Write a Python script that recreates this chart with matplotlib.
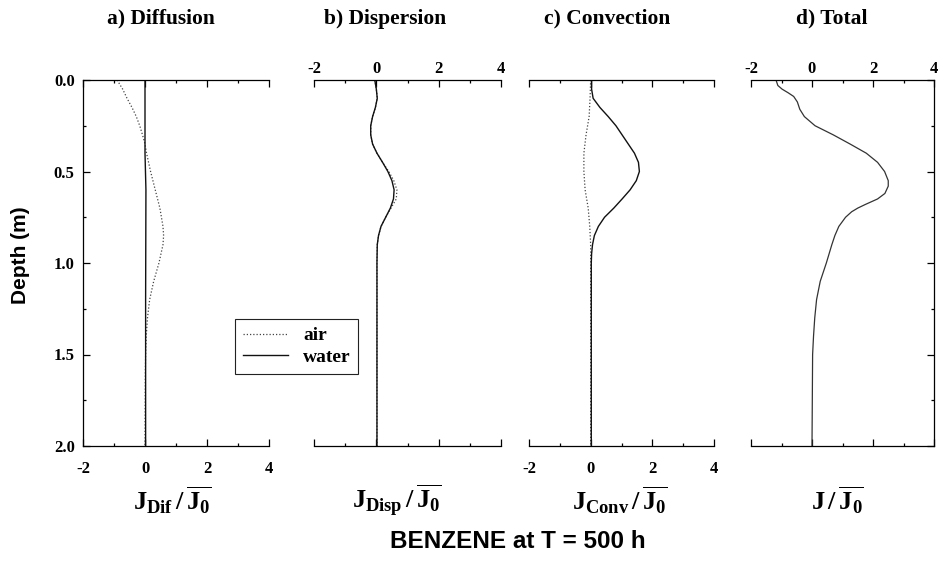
import numpy as np
import matplotlib
matplotlib.use("Agg")
import matplotlib.pyplot as plt
from matplotlib.lines import Line2D

plt.rcParams['font.family'] = 'Liberation Serif'
plt.rcParams['font.weight'] = 'bold'
plt.rcParams['axes.unicode_minus'] = False
plt.rcParams['mathtext.fontset'] = 'custom'
plt.rcParams['mathtext.rm'] = 'Liberation Serif:bold'
plt.rcParams['mathtext.it'] = 'Liberation Serif:bold'
plt.rcParams['mathtext.bf'] = 'Liberation Serif:bold'

# flux profiles vs depth (m), normalised by mean inflow flux
dif_air_depth = [0.0, 0.05, 0.1, 0.15, 0.2, 0.25, 0.3, 0.35, 0.4, 0.5, 0.6, 0.7,
                 0.8, 0.85, 0.9, 1.0, 1.1, 1.2, 1.3, 1.4, 1.5, 1.6, 2.0]
dif_air = [-0.9, -0.72, -0.58, -0.42, -0.28, -0.17, -0.08, 0.0, 0.05, 0.18, 0.33, 0.48,
           0.58, 0.6, 0.58, 0.45, 0.28, 0.15, 0.08, 0.04, 0.02, 0.01, 0.0]
dif_water_depth = [0.0, 0.4, 0.6, 1.2, 2.0]
dif_water = [0.0, 0.0, 0.03, 0.02, 0.02]

disp_depth = [0.0, 0.05, 0.1, 0.15, 0.2, 0.25, 0.3, 0.35, 0.4, 0.45, 0.5, 0.55, 0.6,
              0.65, 0.7, 0.75, 0.8, 0.85, 0.9, 1.0, 2.0]
disp_water = [-0.05, 0.0, 0.03, -0.03, -0.12, -0.18, -0.18, -0.12, 0.02, 0.2, 0.37, 0.5,
              0.57, 0.55, 0.45, 0.3, 0.15, 0.07, 0.03, 0.02, 0.02]
disp_air = [-0.05, 0.0, 0.03, -0.03, -0.12, -0.18, -0.18, -0.12, 0.02, 0.2, 0.4, 0.56,
            0.66, 0.64, 0.47, 0.3, 0.15, 0.07, 0.03, 0.02, 0.02]

conv_water_depth = [0.0, 0.05, 0.1, 0.15, 0.2, 0.25, 0.3, 0.35, 0.4, 0.45, 0.5, 0.55,
                    0.6, 0.65, 0.7, 0.75, 0.8, 0.85, 0.9, 0.95, 1.0, 2.0]
conv_water = [0.03, 0.03, 0.08, 0.3, 0.57, 0.82, 1.02, 1.22, 1.42, 1.55, 1.58, 1.48,
              1.28, 1.02, 0.75, 0.45, 0.25, 0.12, 0.06, 0.03, 0.02, 0.02]
conv_air_depth = [0.0, 0.1, 0.2, 0.3, 0.4, 0.5, 0.6, 0.7, 0.8, 0.9, 2.0]
conv_air = [0.0, -0.02, -0.05, -0.15, -0.22, -0.22, -0.18, -0.08, -0.03, 0.0, 0.0]

total_depth = [0.0, 0.03, 0.05, 0.07, 0.09, 0.12, 0.16, 0.2, 0.25, 0.3, 0.35, 0.4, 0.45,
               0.5, 0.55, 0.58, 0.62, 0.65, 0.68, 0.7, 0.72, 0.75, 0.8, 0.85, 0.9,
               1.0, 1.1, 1.2, 1.3, 1.4, 1.5, 2.0]
total = [-1.18, -1.12, -0.98, -0.78, -0.6, -0.48, -0.4, -0.25, 0.1, 0.7, 1.25, 1.78, 2.15,
         2.38, 2.5, 2.5, 2.39, 2.15, 1.75, 1.5, 1.3, 1.1, 0.88, 0.75, 0.65,
         0.47, 0.27, 0.15, 0.09, 0.05, 0.02, 0.0]

titles = ['a) Diffusion', 'b) Dispersion', 'c) Convection', 'd) Total']
xlabels = [r'$J_{Dif}\,/\,\overline{J_0}$', r'$J_{Disp}\,/\,\overline{J_0}$',
           r'$J_{Conv}\,/\,\overline{J_0}$', r'$J\,/\,\overline{J_0}$']

W, H = 941, 563
fig = plt.figure(figsize=(W / 100, H / 100), dpi=100)

# panel boxes in pixels: left, right
boxes = [(83, 269), (314, 501), (529, 714), (751, 934)]
top_px, bot_px = 80, 446
axes = []
for l, r in boxes:
    ax = fig.add_axes([l / W, 1 - bot_px / H, (r - l) / W, (bot_px - top_px) / H])
    axes.append(ax)

water_kw = dict(color='#111111', lw=1.0)
air_kw = dict(color='#444444', lw=0.9, ls=(0, (1, 1.6)))

axes[0].plot(dif_air, dif_air_depth, **air_kw)
axes[0].plot(dif_water, dif_water_depth, **water_kw)
axes[1].plot(disp_air, disp_depth, **air_kw)
axes[1].plot(disp_water, disp_depth, **water_kw)
axes[2].plot(conv_air, conv_air_depth, **air_kw)
axes[2].plot(conv_water, conv_water_depth, **water_kw)
axes[3].plot(total, total_depth, color='#333333', lw=0.9)

title_x = [0.42, 0.38, 0.42, 0.44]
label_x = [0.48, 0.44, 0.49, 0.475]
xlab_top = [False, True, False, True]

for i, ax in enumerate(axes):
    ax.set_xlim(-2, 4)
    ax.set_ylim(2, 0)
    ax.set_xticks([-2, 0, 2, 4])
    ax.set_xticks([-1, 1, 3], minor=True)
    ax.set_yticks([0, 0.5, 1.0, 1.5, 2.0])
    ax.set_yticks(np.arange(0.25, 2.0, 0.5), minor=True)
    ax.set_yticklabels(['0.0', '0.5', '1.0', '1.5', '2.0'])
    ax.tick_params(which='both', direction='in', width=0.9, colors='black',
                   labelsize=12, top=True, bottom=True, left=False, right=False,
                   labelbottom=not xlab_top[i], labeltop=xlab_top[i],
                   labelleft=False, labelright=False)
    ax.tick_params(which='major', length=5)
    ax.tick_params(which='minor', length=2.5)
    ax.tick_params(axis='x', which='major', pad=11 if not xlab_top[i] else 2.5)
    for s in ax.spines.values():
        s.set_linewidth(0.9)
    ax.spines['left'].set_visible(i == 0)
    ax.spines['right'].set_visible(i == 3)
    ax.text(title_x[i], 1.167, titles[i], transform=ax.transAxes, ha='center',
            va='center', fontsize=15.5, fontweight='bold')
    ax.text(label_x[i], -0.148, xlabels[i], transform=ax.transAxes, ha='center',
            va='center', fontsize=19)

axes[0].tick_params(axis='y', which='both', left=True, labelleft=True, pad=6)
axes[3].tick_params(axis='y', which='both', right=True)

fig.text(21 / W, 1 - 255 / H, 'Depth (m)', rotation=90, ha='center', va='center',
         family='Liberation Sans', fontweight='bold', fontsize=15)
fig.text(518 / W, 1 - 542 / H, 'BENZENE at T = 500 h', ha='center', va='center',
         family='Liberation Sans', fontweight='bold', fontsize=17.5)

handles = [Line2D([], [], **air_kw), Line2D([], [], **water_kw)]
leg = fig.legend(handles, ['air', 'water'], loc='upper left',
                 bbox_to_anchor=(235 / W, 1 - 319 / H), borderaxespad=0,
                 fancybox=False, framealpha=1, edgecolor='#222222',
                 prop={'family': 'Liberation Serif', 'weight': 'bold', 'size': 14},
                 handlelength=2.3, handletextpad=0.8, borderpad=0.4, labelspacing=0.2)
leg.get_frame().set_linewidth(0.8)

fig.savefig('out.png', dpi=100)
